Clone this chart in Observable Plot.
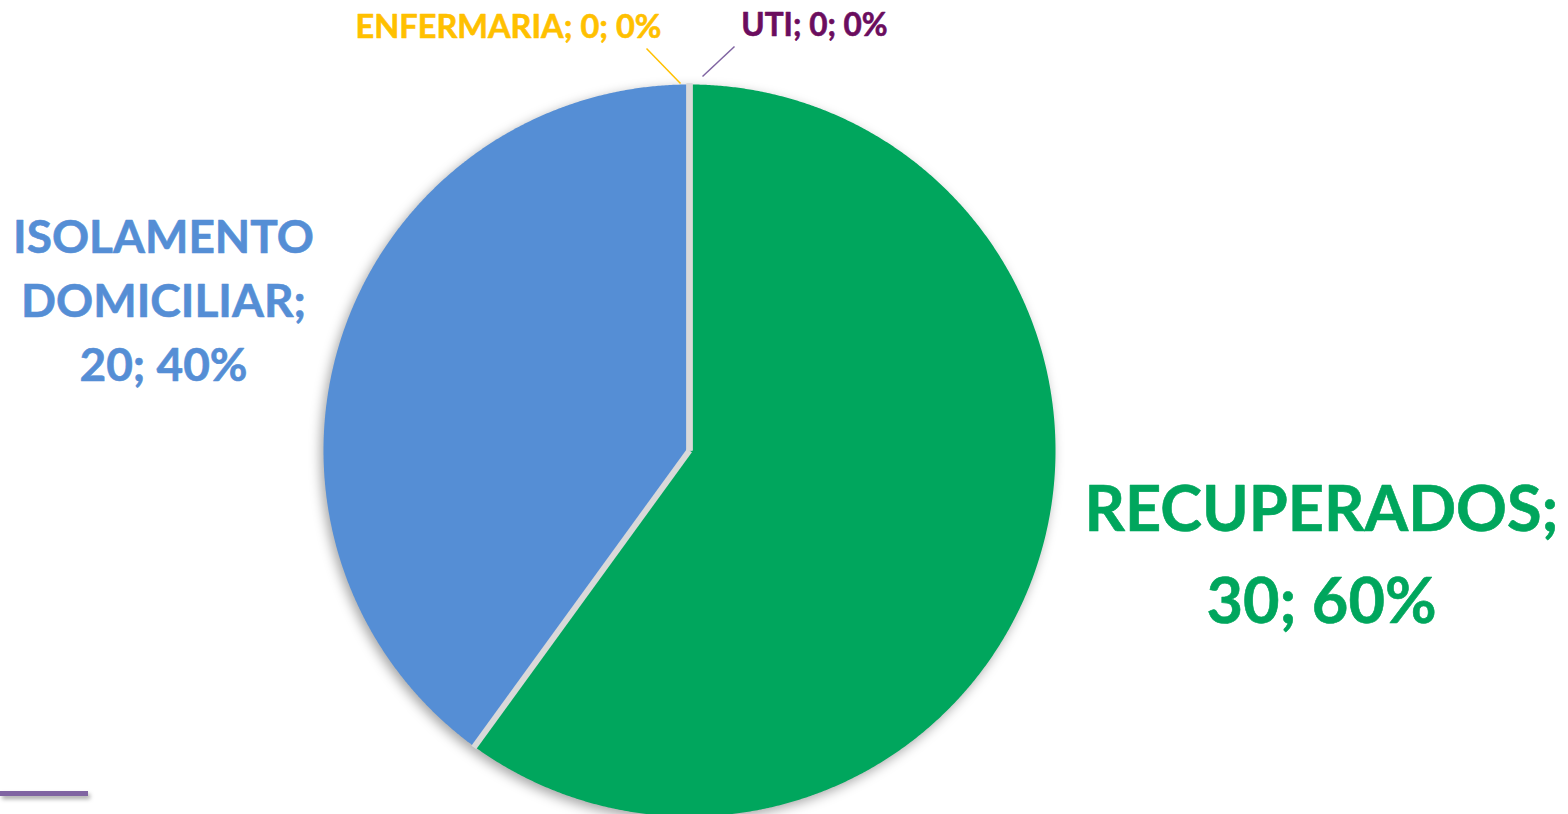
<!DOCTYPE html>
<html>
<head>
<meta charset="utf-8">
<script src="https://cdn.jsdelivr.net/npm/d3@7"></script>
<script src="https://cdn.jsdelivr.net/npm/@observablehq/plot@0.6"></script>
<style>
  html, body { margin: 0; padding: 0; background: #fff; overflow: hidden; }
  #wrap { position: relative; width: 1568px; height: 814px; }
  #deco { position: absolute; left: 0; top: 791px; width: 88px; height: 5px; background: #8064a2; box-shadow: 2px 3px 4px rgba(0,0,0,0.35); }
  svg text { font-family: Lato, "Open Sans", sans-serif; font-weight: 700; }
</style>
</head>
<body>
<div id="wrap"><div id="chart"></div><div id="deco"></div></div>
<script>
// ---- data ----
const categories = ["RECUPERADOS", "ISOLAMENTO DOMICILIAR", "ENFERMARIA", "UTI"];
const values = [30, 20, 0, 0];
const labelTexts = ["RECUPERADOS;\n30; 60%", "ISOLAMENTO\nDOMICILIAR;\n20; 40%", "ENFERMARIA; 0; 0%", "UTI; 0; 0%"];

// ---- styles / layout ----
const sliceColors = ["#00a65d", "#558ed5", "#ffc000", "#7030a0"];
const textColors = ["#00a65d", "#558ed5", "#ffc000", "#6b0d5e"];
const W = 1568, H = 814;
const cx = 689, cy = 450, R = 366;
const labelLayout = [
  {x: 1321, y: 547, size: 63, lh: 1.46},
  {x: 163, y: 296, size: 46, lh: 1.39},
  {x: 508, y: 25, size: 32.5, lh: 1.2},
  {x: 814, y: 23, size: 31.5, lh: 1.2}
];
const leaderLayout = [
  null, null,
  {x1: 646, y1: 48, x2: 680, y2: 83, color: "#ffc000"},
  {x1: 734, y1: 46, x2: 702, y2: 76, color: "#8064a2"}
];

const pie = d3.pie().sort(null).value(d => d)(values);

// slice polygons (center + arc), angles from d3.pie (0 = top, clockwise)
const slicePts = [];
pie.forEach((p, i) => {
  if (p.endAngle - p.startAngle <= 0) return;
  const n = Math.max(2, Math.ceil((p.endAngle - p.startAngle) / 0.005));
  slicePts.push({cat: categories[i], x: cx, y: cy});
  for (let k = 0; k <= n; k++) {
    const a = p.startAngle + (p.endAngle - p.startAngle) * k / n;
    slicePts.push({cat: categories[i], x: cx + R * Math.sin(a), y: cy - R * Math.cos(a)});
  }
  slicePts.push({cat: categories[i], x: cx, y: cy});
});

// separators at slice boundaries
const seps = [];
pie.forEach(p => {
  const a = p.startAngle;
  seps.push({x1: cx, y1: cy, x2: cx + (R + 1) * Math.sin(a), y2: cy - (R + 1) * Math.cos(a)});
});

const labels = categories.map((c, i) => ({
  cat: c, text: labelTexts[i], color: textColors[i], ...labelLayout[i]
}));
const leaders = leaderLayout.map((l, i) => l ? {...l, cat: categories[i]} : null).filter(Boolean);

const chart = Plot.plot({
  width: W, height: H,
  margin: 0,
  x: {domain: [0, W], range: [0, W], axis: null},
  y: {domain: [0, H], range: [0, H], axis: null},
  color: {domain: categories, range: sliceColors},
  marks: [
    Plot.line(slicePts, {x: "x", y: "y", z: "cat", fill: "cat", stroke: null, curve: "linear"}),
    Plot.link(seps, {x1: "x1", y1: "y1", x2: "x2", y2: "y2", stroke: "#d9d9d9", strokeWidth: 6, strokeLinecap: "butt"}),
    Plot.link(leaders, {x1: "x1", y1: "y1", x2: "x2", y2: "y2", stroke: d => d.color, strokeWidth: 1.5}),
    ...labels.map(l => Plot.text([l], {
      x: "x", y: "y", text: "text", fill: l.color, fontSize: l.size, lineHeight: l.lh,
      textAnchor: "middle", lineAnchor: "middle", fontWeight: "bold", fontFamily: "Lato",
      stroke: l.color, strokeWidth: 0.6
    }))
  ]
});
// soft drop shadow under pie (like the original)
const groups = chart.querySelectorAll("g[aria-label='line']");
groups.forEach(g => g.setAttribute("style", "filter: drop-shadow(-3px 4px 6px rgba(0,0,0,0.35))"));
document.getElementById("chart").appendChild(chart);
</script>
</body>
</html>
